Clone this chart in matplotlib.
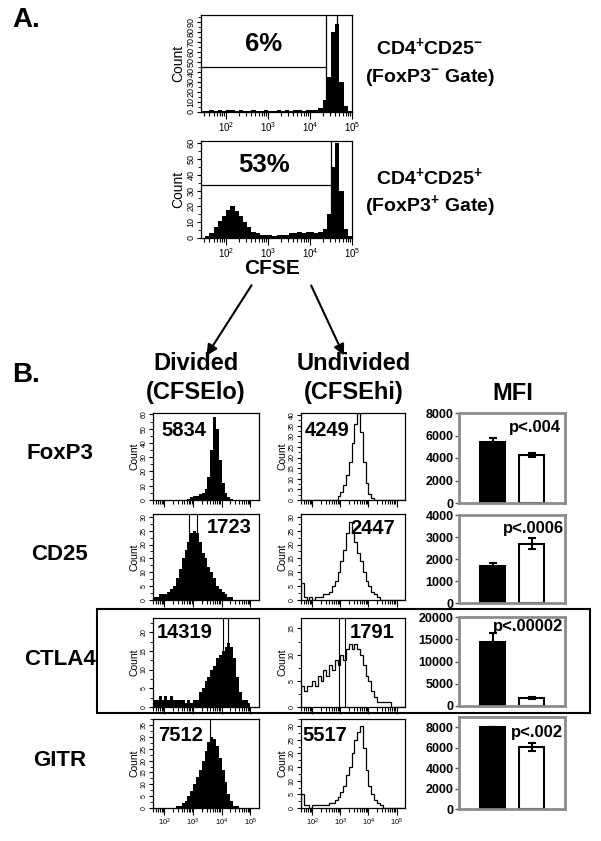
import numpy as np
import matplotlib
matplotlib.use("Agg")
import matplotlib.pyplot as plt
from matplotlib.patches import Rectangle, FancyArrowPatch
from matplotlib.ticker import AutoMinorLocator

plt.rcParams["font.family"] = ["Liberation Sans", "DejaVu Sans"]
plt.rcParams["mathtext.fontset"] = "custom"
plt.rcParams["mathtext.rm"] = "Liberation Sans"
plt.rcParams["mathtext.bf"] = "Liberation Sans:bold"

W, H = 601, 841

# ---------------- data ----------------
# panel A: CFSE histograms, counts per 0.1-decade bin starting at 10^1.4
cfse_start = 1.4
cfse_foxp3_neg = [1, 1, 2, 1, 2, 1, 2, 2, 1, 2, 1, 1, 2, 1, 1, 2, 1, 1,
                  2, 1, 2, 1, 2, 2, 1, 2, 2, 2, 4, 12, 35, 80, 88, 30, 6, 1]
cfse_foxp3_pos = [0, 1, 3, 7, 11, 14, 18, 20, 17, 14, 10, 7, 4, 3, 2, 2, 2, 1,
                  2, 2, 2, 3, 3, 4, 3, 4, 4, 3, 4, 6, 15, 45, 60, 30, 6, 1]
gate_pct = ["6%", "53%"]

# panel B: marker histograms, counts per 0.1-decade bin starting at 10^1.6
markers = ["FoxP3", "CD25", "CTLA4", "GITR"]
hist_start = 1.6
divided = {
    "FoxP3": [0] * 12 + [1, 2, 3, 3, 4, 5, 8, 16, 35, 58, 50, 28, 12, 5, 2, 1] + [0] * 9,
    "CD25": [1, 1, 2, 2, 2, 3, 4, 5, 8, 11, 15, 18, 21, 24, 25, 24, 21, 17, 15, 12,
             10, 8, 5, 4, 3, 2, 1, 1] + [0] * 9,
    "CTLA4": [2, 2, 3, 2, 3, 2, 3, 2, 2, 2, 2, 1, 2, 1, 2, 2, 4, 5, 7, 8,
              10, 11, 13, 14, 15, 16, 17, 16, 13, 8, 4, 2, 2, 1, 0, 0, 0],
    "GITR": [0] * 8 + [1, 1, 2, 3, 5, 7, 10, 13, 16, 20, 24, 28, 30, 29, 26, 21,
                       16, 11, 6, 3, 1, 1] + [0] * 7,
}
undivided = {
    "FoxP3": [0] * 13 + [2, 4, 7, 12, 18, 27, 36, 41, 32, 18, 8, 3, 1] + [0] * 11,
    "CD25": [6, 1, 0, 1, 0, 1, 1, 1, 2, 2, 3, 5, 7, 10, 14, 18, 24, 28, 24, 21,
             17, 14, 10, 7, 5, 3, 2, 1] + [0] * 9,
    "CTLA4": [4, 3, 4, 4, 5, 4, 6, 5, 7, 6, 8, 7, 9, 8, 10, 9, 11, 12, 11, 12,
              11, 10, 8, 6, 5, 3, 2, 1, 1, 1, 1, 1, 0, 0, 0, 0, 0],
    "GITR": [5, 1, 1, 0, 1, 1, 1, 1, 1, 1, 2, 2, 3, 4, 6, 8, 12, 15, 20, 25,
             28, 30, 22, 14, 8, 5, 3, 2, 1] + [0] * 8,
}
# cursor marker lines (log10 fluorescence) visible in some histograms
cursor_div = {"FoxP3": [], "CD25": [2.86, 3.14], "CTLA4": [4.05, 4.22], "GITR": [3.59]}
cursor_und = {"FoxP3": [], "CD25": [], "CTLA4": [2.95, 3.17], "GITR": []}
mfi_divided = {"FoxP3": "5834", "CD25": "1723", "CTLA4": "14319", "GITR": "7512"}
mfi_undivided = {"FoxP3": "4249", "CD25": "2447", "CTLA4": "1791", "GITR": "5517"}
hist_ymax_div = {"FoxP3": 61, "CD25": 31, "CTLA4": 23.8, "GITR": 37.6}
hist_ymax_und = {"FoxP3": 41, "CD25": 31, "CTLA4": 17, "GITR": 32.6}
hist_yticks_div = {"FoxP3": range(0, 61, 10), "CD25": range(0, 31, 5),
                   "CTLA4": range(0, 21, 5), "GITR": range(0, 36, 5)}
hist_yticks_und = {"FoxP3": range(0, 41, 5), "CD25": range(0, 31, 5),
                   "CTLA4": range(0, 16, 5), "GITR": range(0, 31, 5)}

# MFI bar charts: divided (black) vs undivided (white)
mfi_mean = {"FoxP3": [5400, 4250], "CD25": [1700, 2700],
            "CTLA4": [14300, 1800], "GITR": [8000, 6100]}
mfi_err = {"FoxP3": [400, 200], "CD25": [100, 250],
           "CTLA4": [2000, 300], "GITR": [0, 400]}
mfi_ymax = {"FoxP3": 8000, "CD25": 4000, "CTLA4": 20000, "GITR": 9000}
mfi_yticks = {"FoxP3": range(0, 8001, 2000), "CD25": range(0, 4001, 1000),
              "CTLA4": range(0, 20001, 5000), "GITR": range(0, 8001, 2000)}
pvalues = {"FoxP3": "p<.004", "CD25": "p<.0006", "CTLA4": "p<.00002", "GITR": "p<.002"}

# ---------------- layout (pixels) ----------------
row_px = {"FoxP3": (413, 500), "CD25": (514, 600), "CTLA4": (618, 707), "GITR": (719, 808)}
bar_px = {"FoxP3": (413, 503), "CD25": (515, 603), "CTLA4": (617, 706), "GITR": (717, 809)}
pval_px = {"FoxP3": (535, 427), "CD25": (533, 528), "CTLA4": (528, 627), "GITR": (537, 732)}
num_pos_div = {"FoxP3": (0.08, 0.80), "CD25": (0.51, 0.84), "CTLA4": (0.04, 0.84), "GITR": (0.05, 0.82)}
num_pos_und = {"FoxP3": (0.04, 0.80), "CD25": (0.47, 0.83), "CTLA4": (0.47, 0.84), "GITR": (0.01, 0.82)}

fig = plt.figure(figsize=(W / 100, H / 100), dpi=100)


def px_axes(x0, y0, x1, y1):
    return fig.add_axes([x0 / W, 1 - y1 / H, (x1 - x0) / W, (y1 - y0) / H])


def px_text(x, y, s, **kw):
    kw.setdefault("ha", "center")
    kw.setdefault("va", "center")
    kw.setdefault("fontweight", "bold")
    return fig.text(x / W, 1 - y / H, s, **kw)


def log_axis(ax, lo, hi, labels, fs):
    major = [d for d in range(1, 7) if lo <= d <= hi]
    minor = [d + np.log10(k) for d in range(1, 6) for k in range(2, 10)
             if lo <= d + np.log10(k) <= hi]
    ax.set_xlim(lo, hi)
    ax.set_xticks(major)
    ax.set_xticks(minor, minor=True)
    if labels:
        ax.set_xticklabels([r"$\mathrm{10^{%d}}$" % d for d in major], fontsize=fs)
    else:
        ax.set_xticklabels([])
    ax.tick_params(axis="x", which="major", length=5, width=0.8, pad=1)
    ax.tick_params(axis="x", which="minor", length=3, width=0.8)


def histogram(ax, counts, start, ymax, yticks, filled, fs_tick, fs_label):
    edges = start + 0.1 * np.arange(len(counts) + 1)
    if filled:
        ax.stairs(counts, edges, fill=True, color="black", linewidth=0)
    else:
        ax.stairs(counts, edges, color="black", linewidth=0.9)
    ax.set_ylim(0, ymax)
    ax.set_yticks(list(yticks))
    ax.set_yticklabels([str(t) for t in yticks], rotation=90, va="center",
                       fontsize=fs_tick)
    ax.yaxis.set_minor_locator(AutoMinorLocator(2))
    ax.tick_params(axis="y", which="major", length=3, width=0.8, pad=1)
    ax.tick_params(axis="y", which="minor", length=2, width=0.6)
    ax.set_ylabel("Count", fontsize=fs_label, labelpad=1)
    for sp in ax.spines.values():
        sp.set_linewidth(0.9)


# ---------------- panel A ----------------
px_text(12, 20, "A.", fontsize=20, ha="left")

a_rows = [(15, 112, cfse_foxp3_neg, 97, range(0, 91, 10), [4.38, 4.64], 45),
          (141, 238, cfse_foxp3_pos, 61.3, range(0, 61, 10), [4.5], 33.5)]
for (y0, y1, counts, ymax, yt, vlines, hline), pct in zip(a_rows, gate_pct):
    ax = px_axes(201, y0, 352, y1)
    histogram(ax, counts, cfse_start, ymax, yt, True, 6.5, 10)
    log_axis(ax, 1.4, 5.0, True, 7)
    for v in vlines:
        ax.axvline(v, color="black", linewidth=0.9)
    ax.plot([1.4, vlines[0]], [hline, hline], color="black", linewidth=0.9)
    ax.text(2.9, hline + (ymax - hline) * 0.45, pct, ha="center", va="center",
            fontsize=18.5, fontweight="bold")

px_text(430, 48, r"CD4$^{\mathbf{+}}$CD25$^{\mathbf{-}}$", fontsize=14)
px_text(430, 78, r"(FoxP3$^{\mathbf{-}}$ Gate)", fontsize=14)
px_text(430, 178, r"CD4$^{\mathbf{+}}$CD25$^{\mathbf{+}}$", fontsize=14)
px_text(430, 207, r"(FoxP3$^{\mathbf{+}}$ Gate)", fontsize=14)
px_text(272, 268, "CFSE", fontsize=15)

for (xa, ya), (xb, yb) in [((253, 283), (205, 358)), ((310, 283), (345, 358))]:
    fig.add_artist(FancyArrowPatch((xa / W, 1 - ya / H), (xb / W, 1 - yb / H),
                                   transform=fig.transFigure, arrowstyle="-|>",
                                   mutation_scale=16, linewidth=1.5, color="black"))

# ---------------- panel B ----------------
px_text(12, 375, "B.", fontsize=20, ha="left")
px_text(196, 364, "Divided", fontsize=17)
px_text(196, 393, "(CFSElo)", fontsize=17)
px_text(354, 364, "Undivided", fontsize=17)
px_text(354, 393, "(CFSEhi)", fontsize=17)
px_text(513, 393, "MFI", fontsize=17)

for m in markers:
    y0, y1 = row_px[m]
    last = m == markers[-1]
    px_text(60, (y0 + y1) / 2 - 3, m, fontsize=16)

    ax = px_axes(153, y0, 259, y1)
    histogram(ax, divided[m], hist_start, hist_ymax_div[m], hist_yticks_div[m],
              True, 5, 7.5)
    log_axis(ax, 1.6, 5.3, last, 5.5)
    for v in cursor_div[m]:
        ax.axvline(v, color="black", linewidth=0.8)
    ax.text(*num_pos_div[m], mfi_divided[m], transform=ax.transAxes,
            ha="left", va="center", fontsize=14.5, fontweight="bold")

    ax = px_axes(301, y0, 405, y1)
    histogram(ax, undivided[m], hist_start, hist_ymax_und[m], hist_yticks_und[m],
              False, 5, 7.5)
    log_axis(ax, 1.6, 5.3, last, 5.5)
    for v in cursor_und[m]:
        ax.axvline(v, color="black", linewidth=0.8)
    ax.text(*num_pos_und[m], mfi_undivided[m], transform=ax.transAxes,
            ha="left", va="center", fontsize=14.5, fontweight="bold")

    b0, b1 = bar_px[m]
    ax = px_axes(459, b0, 565, b1)
    ax.bar([0, 1], mfi_mean[m], width=0.64, color=["black", "white"],
           edgecolor="black", linewidth=1.5, zorder=2)
    ax.errorbar([0, 1], mfi_mean[m], yerr=mfi_err[m], fmt="none", ecolor="black",
                elinewidth=1.5, capsize=3, capthick=1.5, zorder=3)
    ax.set_xlim(-0.87, 1.85)
    ax.set_ylim(0, mfi_ymax[m])
    ax.set_xticks([])
    ax.set_yticks(list(mfi_yticks[m]))
    ax.set_yticklabels([str(t) for t in mfi_yticks[m]], fontsize=9, fontweight="bold")
    ax.tick_params(axis="y", length=3, width=1, color="#555555", pad=1)
    for sp in ax.spines.values():
        sp.set_color("#8c8c8c")
        sp.set_linewidth(2)
    px_text(*pval_px[m], pvalues[m], fontsize=12)

fig.add_artist(Rectangle((97 / W, 1 - 713 / H), (590 - 97) / W, (713 - 609) / H,
                         transform=fig.transFigure, fill=False,
                         edgecolor="black", linewidth=1.5))

fig.savefig("out.png", dpi=100)
